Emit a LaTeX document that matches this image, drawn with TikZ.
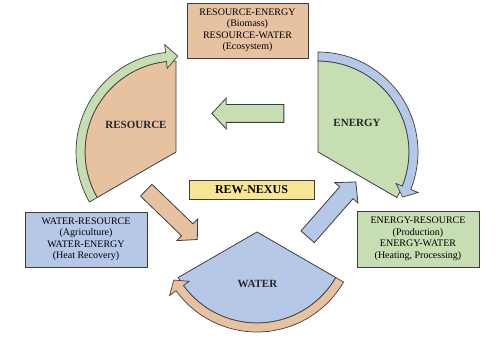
\documentclass[tikz,border=0pt]{standalone}
\usepackage{fontspec}
\setmainfont{Liberation Serif}
\usepackage{tikz}
\usetikzlibrary{shapes.arrows, positioning, calc}
\definecolor{tanfill}{RGB}{231,194,160}
\definecolor{bluefill}{RGB}{182,200,232}
\definecolor{greenfill}{RGB}{198,222,178}
\definecolor{yellowfill}{RGB}{247,230,148}
\definecolor{edgegray}{RGB}{62,62,66}
\tikzset{
    box_info/.style={
        rectangle, draw=edgegray, line width=0.8pt,
        minimum width=122pt, minimum height=55pt, inner sep=2pt,
        align=center, font=\fontsize{10}{11.5}\selectfont
    },
    box_nexus/.style={
        rectangle, draw=edgegray, line width=0.8pt, fill=yellowfill,
        minimum width=125pt, minimum height=19pt, inner sep=1pt,
        font=\fontsize{12}{13}\selectfont\bfseries
    },
    sector/.style={draw=edgegray, line width=0.8pt},
    band/.style={draw=edgegray, line width=0.7pt},
    sector_lbl/.style={font=\fontsize{11}{12}\selectfont\bfseries, text=black!85},
    block_arrow/.style={
        single arrow, draw=edgegray, line width=0.8pt, inner sep=0pt,
        minimum width=30pt, single arrow head extend=6.5pt,
        single arrow tip angle=94
    }
}
\begin{document}
\begin{tikzpicture}[x=1pt, y=1pt]
    \useasboundingbox (0,0) rectangle (504,338);
    % sector apexes
    \coordinate (res_c) at (176,186);
    \coordinate (ene_c) at (318,186);
    \coordinate (wat_c) at (257,106);

    % Sectors
    \filldraw[sector, fill=tanfill] (res_c) -- ++(90:91pt) arc[start angle=90, end angle=210, radius=91pt] -- cycle;
    \filldraw[sector, fill=greenfill] (ene_c) -- ++(90:91pt) arc[start angle=90, end angle=-30, radius=91pt] -- cycle;
    \filldraw[sector, fill=bluefill] (wat_c) -- ++(210:91pt) arc[start angle=210, end angle=330, radius=91pt] -- cycle;

    % Curved arrows
    \filldraw[band, fill=greenfill] ([shift={(210:91pt)}]res_c) arc[start angle=210, end angle=96, radius=91pt]
        -- ([shift={(96:84pt)}]res_c) -- ([shift={(89:96pt)}]res_c) -- ([shift={(96:108pt)}]res_c)
        -- ([shift={(96:100pt)}]res_c) arc[start angle=96, end angle=210, radius=100pt] -- cycle;
    \filldraw[band, fill=bluefill] ([shift={(90:91pt)}]ene_c) arc[start angle=90, end angle=-22, radius=91pt]
        -- ([shift={(-22:84pt)}]ene_c) -- ([shift={(-28:96pt)}]ene_c) -- ([shift={(-22:108pt)}]ene_c)
        -- ([shift={(-22:100pt)}]ene_c) arc[start angle=-22, end angle=90, radius=100pt] -- cycle;
    \filldraw[band, fill=tanfill] ([shift={(330:91pt)}]wat_c) arc[start angle=330, end angle=216, radius=91pt]
        -- ([shift={(216:84pt)}]wat_c) -- ([shift={(210:96pt)}]wat_c) -- ([shift={(216:108pt)}]wat_c)
        -- ([shift={(216:100pt)}]wat_c) arc[start angle=216, end angle=330, radius=100pt] -- cycle;

    % Sector labels
    \node[sector_lbl] (res) at (136,213) {RESOURCE};
    \node[sector_lbl] (ene) at (357,215) {ENERGY};
    \node[sector_lbl] (wat) at (257.5,54) {WATER};

    % Info boxes
    \node[box_info, fill=tanfill, minimum width=121pt] (res_box) at (247.5,307.5) {RESOURCE-ENERGY\\(Biomass)\\RESOURCE-WATER\\(Ecosystem)};
    \node[box_info, fill=bluefill] (wat_box) at (86,98.5) {WATER-RESOURCE\\(Agriculture)\\WATER-ENERGY\\(Heat Recovery)};
    \node[box_info, fill=greenfill, minimum height=56pt] (ene_box) at (418,99) {ENERGY-RESOURCE\\(Production)\\ENERGY-WATER\\(Heating, Processing)};
    \node[box_nexus] (nexus) at (251.5,148.5) {REW-NEXUS};

    % Straight arrows
    \node[block_arrow, fill=greenfill, minimum height=72pt, rotate=180] (arr_ene) at (252,224.5) {\rule{0pt}{17pt}};
    \node[block_arrow, fill=tanfill, minimum height=71pt, rotate=-44] (arr_res) at (169,125.8) {\rule{0pt}{15pt}};
    \node[block_arrow, fill=bluefill, minimum height=73pt, rotate=48.7] (arr_wat) at (329,125.5) {\rule{0pt}{17pt}};
\end{tikzpicture}
\end{document}
